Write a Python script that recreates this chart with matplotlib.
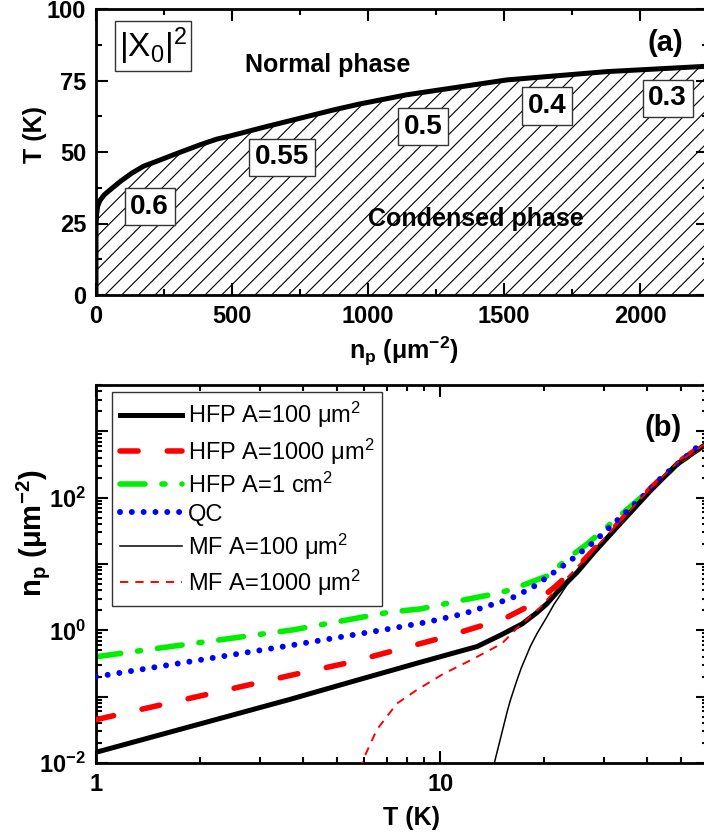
import math
import matplotlib
matplotlib.use('Agg')
import matplotlib.pyplot as plt
from matplotlib import font_manager
from matplotlib.ticker import MultipleLocator, LogLocator, FixedLocator, NullFormatter, FuncFormatter

names = {f.name for f in font_manager.fontManager.ttflist}
narrow = 'Liberation Sans Narrow' if 'Liberation Sans Narrow' in names else 'Liberation Sans'

plt.rcParams.update({
    'font.family': 'Liberation Sans',
    'font.weight': 'bold',
    'axes.labelweight': 'bold',
    'mathtext.fontset': 'custom',
    'mathtext.rm': 'Liberation Sans:weight=normal',
    'mathtext.it': 'Liberation Sans:style=italic:weight=normal',
    'mathtext.bf': 'Liberation Sans:weight=bold',
    'mathtext.sf': narrow + ':weight=normal',
    'hatch.linewidth': 0.8,
    'lines.scale_dashes': False,
    'axes.linewidth': 2.0,
})

# ---- panel (a): phase boundary
n_a = [0, 0, 2, 6, 14, 30, 51, 88, 130, 174, 230, 284, 382, 444, 493, 627, 750, 873, 970,
       1142, 1510, 1877, 2250]
T_a = [0, 24, 28, 31, 33, 35, 36.7, 39.6, 42.5, 45, 47, 49, 52.5, 54.5, 55.6, 58.9, 61.8,
       64.7, 66.8, 70.0, 75.2, 78.1, 80.0]

box_labels = ['0.6', '0.55', '0.5', '0.4', '0.3']
box_n = [197, 684, 1202, 1658, 2102]
box_T = [30.9, 48.2, 58.9, 66.1, 68.8]

# ---- panel (b): n_p vs T
T_hfp100 = [1, 3.66, 5.73, 8.75, 10, 12.8, 15, 17.3, 19.1, 20.4, 22, 25, 28, 32.6,
            40.8, 48.8, 58.3, 60]
n_hfp100 = [0.0145, 0.091, 0.177, 0.33, 0.40, 0.57, 0.85, 1.25, 1.85, 2.5, 3.9, 7.5, 15,
            35.7, 127, 321, 605, 660]

T_hfp1000 = [1, 3.83, 5.48, 10.2, 13.3, 15.4, 18.6, 21.3, 25.5, 29.2, 32.6, 40.8, 48.8, 58.3, 60]
n_hfp1000 = [0.045, 0.22, 0.33, 0.78, 1.19, 1.51, 2.5, 4.3, 10, 21, 39, 138, 335, 640, 690]

T_hfp1cm = [1, 3.75, 7.16, 8.75, 11.4, 13.8, 15.8, 17.3, 20.6, 23.4, 26.7, 31.2, 35.3, 39.9,
            44.6, 48.8, 58.3, 60]
n_hfp1cm = [0.40, 1.02, 1.89, 2.1, 2.8, 3.4, 4.0, 4.75, 6.7, 12, 20, 40, 70, 120, 200, 321,
            605, 660]

T_qc = [1, 3.8, 7.16, 9.15, 11.7, 16, 18.5, 21.8, 23.9, 27.9, 32.6, 38.1, 44.6, 52.2, 57, 60]
n_qc = [0.20, 0.61, 1.06, 1.33, 1.78, 3.0, 4.4, 8.0, 11.3, 21.3, 45, 95.6, 215, 430, 640, 740]

T_mf100 = [14.3, 14.4, 15.7, 16.0, 16.7, 17.2, 18.3, 19.1, 20.4, 21.4, 23.4, 25, 28, 32.6, 40.8,
           48.8, 60]
n_mf100 = [0.008, 0.0105, 0.063, 0.089, 0.175, 0.27, 0.58, 0.89, 1.58, 2.45, 4.9, 7.5, 15, 35.7,
           127, 321, 660]

T_mf1000 = [5.85, 6.05, 6.55, 7.49, 8.55, 10.2, 12.2, 15.1, 16.7, 19.5, 21.4, 25.5, 29.2, 32.6,
            40.8, 48.8, 60]
n_mf1000 = [0.008, 0.013, 0.032, 0.079, 0.126, 0.22, 0.35, 0.63, 1.07, 2.2, 3.8, 10, 21, 39,
            138, 335, 690]

fig = plt.figure(figsize=(7.04, 8.36), dpi=100)
ax1 = fig.add_axes([96 / 704, 1 - 295 / 836, 612 / 704, 286 / 836])
ax2 = fig.add_axes([96 / 704, 1 - 763 / 836, 612 / 704, 378 / 836])

# panel (a)
ax1.fill_between(n_a, 0, T_a, hatch='//', facecolor='none', edgecolor='black', linewidth=0)
ax1.plot(n_a, T_a, color='black', lw=3.6, solid_joinstyle='round')
ax1.set_xlim(0, 2250)
ax1.set_ylim(0, 100)
ax1.xaxis.set_major_locator(MultipleLocator(500))
ax1.xaxis.set_minor_locator(MultipleLocator(250))
ax1.yaxis.set_major_locator(MultipleLocator(25))
ax1.yaxis.set_minor_locator(MultipleLocator(12.5))
ax1.set_xlabel(r'n$_\mathbf{p}$ (μm$^\mathbf{-2}$)', fontsize=18)
ax1.set_ylabel('T (K)', fontsize=18)
ax1.xaxis.set_label_coords(0.503, -0.14)
ax1.yaxis.set_label_coords(-0.080, 0.56)

for lab, x, y in zip(box_labels, box_n, box_T):
    ax1.text(x, y, lab, fontsize=20, ha='center', va='center',
             bbox=dict(boxstyle='square,pad=0.2', fc='white', ec='#333333', lw=1))
ax1.text(208, 87, r'$\mathsf{|X_0|^2}$', fontsize=24, ha='center', va='center',
         bbox=dict(boxstyle='square,pad=0.12', fc='white', ec='#333333', lw=1))
ax1.text(853, 78, 'Normal phase', fontsize=18, ha='center', va='baseline')
ax1.text(1398, 24.2, 'Condensed phase', fontsize=18, ha='center', va='baseline')
ax1.text(2094, 88, '(a)', fontsize=21, ha='center', va='center')

# panel (b)
ax2.set_xscale('log')
ax2.set_yscale('log')
ax2.plot(T_hfp100, n_hfp100, color='black', lw=3.6, label=r'HFP A=100 μm$^2$', zorder=3)
ax2.plot(T_hfp1000, n_hfp1000, color='red', lw=4, dashes=(13, 21), dash_capstyle='round',
         label=r'HFP A=1000 μm$^2$', zorder=4)
ax2.plot(T_hfp1cm, n_hfp1cm, color='#00ee00', lw=4, dashes=(18, 12.2, 2.2, 12.2),
         dash_capstyle='round', label=r'HFP A=1 cm$^2$', zorder=2)
ax2.plot(T_qc, n_qc, color='blue', lw=4.3, dashes=(0.01, 8.5), dash_capstyle='round',
         label='QC', zorder=5)
ax2.plot(T_mf100, n_mf100, color='black', lw=1.1, label=r'MF A=100 μm$^2$', zorder=6)
ax2.plot(T_mf1000, n_mf1000, color='red', lw=1.4, dashes=(6, 5), label=r'MF A=1000 μm$^2$', zorder=6)

ax2.set_xlim(1, 60)
ax2.set_ylim(0.01, 5000)
ax2.xaxis.set_major_locator(LogLocator(base=10, numticks=10))
ax2.xaxis.set_minor_locator(LogLocator(base=10, subs=range(2, 10), numticks=20))
ax2.xaxis.set_major_formatter(FuncFormatter(lambda v, p: f'{v:g}'))
ax2.xaxis.set_minor_formatter(NullFormatter())
ax2.yaxis.set_major_locator(FixedLocator([1e-2, 1e-1, 1, 10, 100, 1000]))
ax2.yaxis.set_minor_locator(LogLocator(base=10, subs=range(2, 10), numticks=20))


def ylab(v, p):
    e = int(round(math.log10(v)))
    return r'$\mathbf{10^{%d}}$' % e if e % 2 == 0 else ''


ax2.yaxis.set_major_formatter(FuncFormatter(ylab))
ax2.yaxis.set_minor_formatter(NullFormatter())
ax2.set_xlabel('T (K)', fontsize=18)
ax2.set_ylabel(r'n$_\mathbf{p}$ (μm$^\mathbf{-2}$)', fontsize=21)
ax2.xaxis.set_label_coords(0.516, -0.114)
ax2.yaxis.set_label_coords(-0.072, 0.608)
ax2.text(0.926, 0.886, '(b)', fontsize=21, ha='center', va='center', transform=ax2.transAxes)

leg = ax2.legend(loc='upper left', bbox_to_anchor=(16 / 612, 1 - 7 / 378), borderaxespad=0,
                 fancybox=False, edgecolor='#333333', framealpha=1,
                 prop={'family': 'Liberation Sans', 'weight': 'normal', 'size': 17},
                 handlelength=2.6, handletextpad=0.25, labelspacing=0.25, borderpad=0.35)
leg.get_frame().set_linewidth(1.0)

for ax in (ax1, ax2):
    ax.tick_params(which='both', direction='in', top=True, right=True, width=1.5,
                   labelsize=17, pad=7)
    ax.tick_params(which='major', length=8.6)
    ax.tick_params(which='minor', length=4.3)

fig.savefig('out.png', dpi=100)
